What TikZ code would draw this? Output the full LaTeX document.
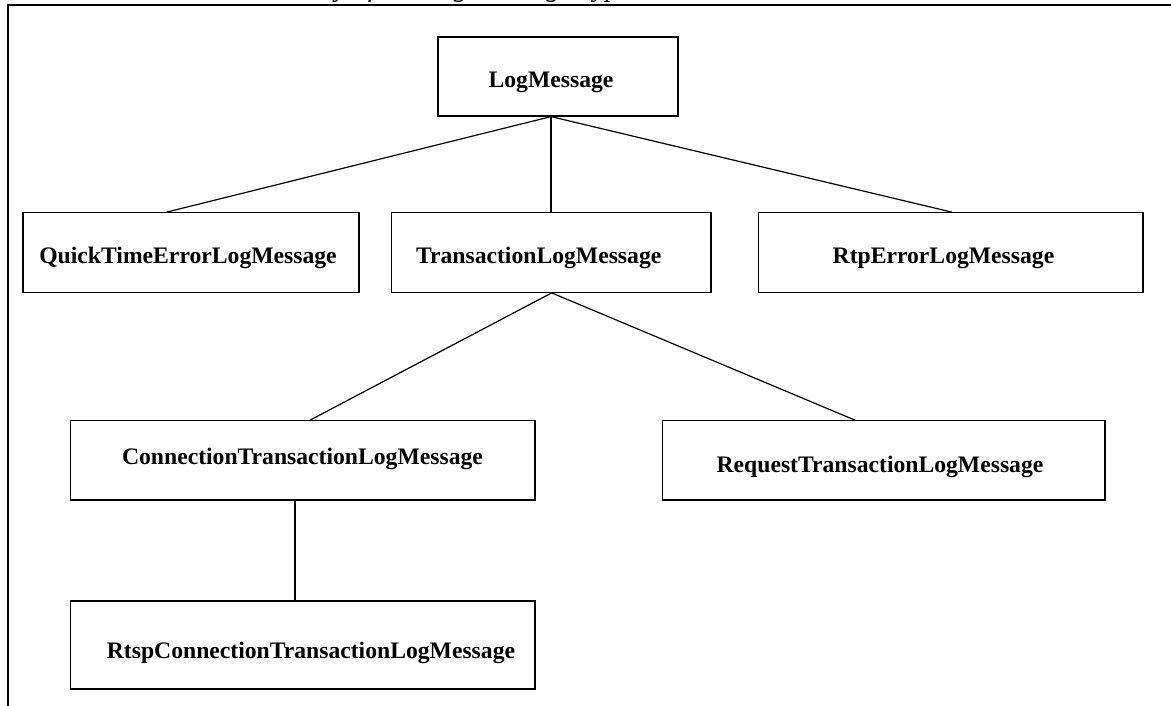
\documentclass[tikz,border=0pt]{standalone}
\usepackage{fontspec}
\setmainfont{Liberation Serif}
\begin{document}
\begin{tikzpicture}[x=1pt,y=-1pt,
  classbox/.style={draw=black, line width=1.2pt, rectangle, inner sep=0pt},
  classname/.style={anchor=base, inner sep=0pt,
    font=\fontsize{23.65pt}{28pt}\selectfont\bfseries},
  caption/.style={anchor=base west, inner sep=0pt,
    font=\fontsize{28pt}{32pt}\selectfont\itshape},
  link/.style={draw=black, line width=1.2pt}]
\useasboundingbox (0,0) rectangle (1171,706);
\clip (0,0) rectangle (1171,706);

% figure caption above the frame
\node[caption] (cap) at (233,-3) {Hierarchy of the Log Message Types};

% surrounding frame
\draw[line width=1.6pt] (8,720) -- (8,5) -- (1180,5);

% class boxes
\node[classbox, minimum width=240pt, minimum height=79pt] (lm) at (558,76.5) {};
\node[classbox, minimum width=336pt, minimum height=79.6pt] (qt) at (191,252.5) {};
\node[classbox, minimum width=319.3pt, minimum height=79.6pt] (tr) at (551.4,252.5) {};
\node[classbox, minimum width=384.7pt, minimum height=79.6pt] (rtp) at (950.7,252.5) {};
\node[classbox, minimum width=464.3pt, minimum height=79.3pt] (con) at (302.9,460.4) {};
\node[classbox, minimum width=442.3pt, minimum height=79.3pt] (req) at (883.9,460.4) {};
\node[classbox, minimum width=464.3pt, minimum height=88pt] (rtsp) at (302.9,645) {};

% class names
\node[classname] (lmT) at (551,88) {LogMessage};
\node[classname] (qtT) at (188,263) {QuickTimeErrorLogMessage};
\node[classname] (trT) at (538.7,263) {TransactionLogMessage};
\node[classname] (rtpT) at (943.5,263) {RtpErrorLogMessage};
\node[classname] (conT) at (302.5,464) {ConnectionTransactionLogMessage};
\node[classname] (reqT) at (880,472) {RequestTransactionLogMessage};
\node[classname] (rtspT) at (311,658) {RtspConnectionTransactionLogMessage};

% inheritance links
\draw[link] ([xshift=-7pt]lm.south) -- ([xshift=-24.3pt]qt.north);
\draw[link] ([xshift=-7pt]lm.south) -- ([xshift=-0.4pt]tr.north);
\draw[link] ([xshift=-7pt]lm.south) -- ([xshift=1pt]rtp.north);
\draw[link] ([xshift=0.3pt]tr.south) -- ([xshift=7.1pt]con.north);
\draw[link] ([xshift=0.3pt]tr.south) -- ([xshift=-28.9pt]req.north);
\draw[link] ([xshift=-7.9pt]con.south) -- ([xshift=-7.9pt]rtsp.north);
\end{tikzpicture}
\end{document}
